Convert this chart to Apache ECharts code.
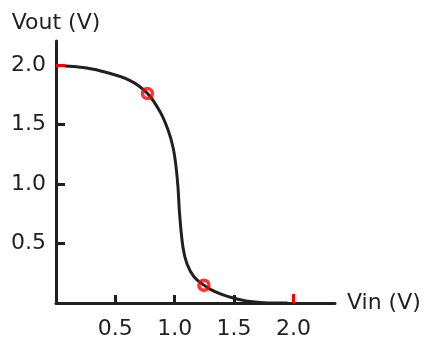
<!DOCTYPE html>
<html>
<head>
<meta charset="utf-8">
<script src="https://cdn.jsdelivr.net/npm/echarts@6/dist/echarts.min.js"></script>
<style>
  html, body { margin: 0; padding: 0; background: #fff; }
  #chart { width: 427px; height: 341px; }
</style>
</head>
<body>
<div id="chart"></div>
<script>
// transfer curve of an inverter
var vin = [0.075, 0.2, 0.37, 0.62, 0.77, 0.88, 0.945, 0.985, 1.008, 1.027, 1.041, 1.069, 1.103, 1.162, 1.246, 1.3, 1.39, 1.5, 1.6, 1.72, 1.85, 1.95]
var vout = [1.99, 1.98, 1.95, 1.87, 1.76, 1.6, 1.45, 1.31, 1.17, 0.98, 0.75, 0.47, 0.33, 0.22, 0.15, 0.115, 0.075, 0.04, 0.018, 0.005, 0, 0]

// marked points (red circles)
var markVin = [0.77, 1.246]
var markVout = [1.76, 0.15]

var xTicks = [0.5, 1.0, 1.5]
var xLabels = [0.5, 1.0, 1.5, 2.0]
var yTicks = [0.5, 1.0, 1.5]
var yLabels = [0.5, 1.0, 1.5, 2.0]
var redTick = [2.0]

var ink = '#231f20'
var red = '#ff0000'
var font = 'DejaVu Sans'

var chart = echarts.init(document.getElementById('chart'))

chart.setOption({
    animation: false,
    grid: { left: 56, top: 41, width: 279, height: 262 },
    xAxis: [{
        type: 'value', min: 0, max: 2.35,
        name: 'Vin (V)', nameLocation: 'end', nameGap: 12,
        nameTextStyle: { color: ink, fontSize: 22, fontFamily: font, padding: [6, 0, 0, 0] },
        axisLine: { lineStyle: { color: ink, width: 3 } },
        axisTick: { show: true, inside: true, length: 8, customValues: xTicks, lineStyle: { color: ink, width: 3 } },
        axisLabel: { customValues: xLabels, margin: 15, color: ink, fontSize: 22, fontFamily: font,
            formatter: function (v) { return v.toFixed(1) } },
        splitLine: { show: false }
    }, {
        type: 'value', min: 0, max: 2.35, position: 'bottom', offset: 0,
        axisLine: { show: false },
        axisTick: { show: true, inside: true, length: 9, customValues: redTick, lineStyle: { color: red, width: 3 } },
        axisLabel: { show: false },
        splitLine: { show: false }
    }],
    yAxis: [{
        type: 'value', min: 0, max: 2.2,
        name: 'Vout (V)', nameLocation: 'end', nameGap: 7,
        nameTextStyle: { color: ink, fontSize: 22, fontFamily: font },
        axisLine: { lineStyle: { color: ink, width: 3 } },
        axisTick: { show: true, inside: true, length: 9, customValues: yTicks, lineStyle: { color: ink, width: 3 } },
        axisLabel: { customValues: yLabels, margin: 10, color: ink, fontSize: 22, fontFamily: font,
            formatter: function (v) { return v.toFixed(1) } },
        splitLine: { show: false }
    }, {
        type: 'value', min: 0, max: 2.2, position: 'left', offset: 0,
        axisLine: { show: false },
        axisTick: { show: true, inside: true, length: 9, customValues: redTick, lineStyle: { color: red, width: 3 } },
        axisLabel: { show: false },
        splitLine: { show: false }
    }],
    series: [{
        type: 'line',
        data: vin.map((x, i) => [x, vout[i]]),
        showSymbol: false,
        smooth: 0.35,
        lineStyle: { color: ink, width: 3 },
        z: 2
    }, {
        type: 'scatter',
        data: markVin.map((x, i) => [x, markVout[i]]),
        symbol: 'circle',
        symbolSize: 10,
        itemStyle: { color: 'rgba(255,255,255,0)', borderColor: red, borderWidth: 3.5 },
        z: 3
    }]
})
</script>
</body>
</html>
